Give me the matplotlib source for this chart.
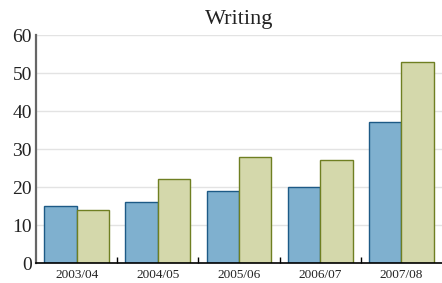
import numpy as np
import matplotlib.pyplot as plt

plt.rcParams['font.family'] = ['Liberation Serif', 'DejaVu Serif']

years = ['2003/04', '2004/05', '2005/06', '2006/07', '2007/08']
series_a = [15, 16, 19, 20, 37]
series_b = [14, 22, 28, 27, 53]

fig = plt.figure(figsize=(4.42, 2.83), dpi=100)
ax = fig.add_axes([36 / 442, 20 / 283, 1 - 36 / 442, 228 / 283])

x = np.arange(len(years))
w = 0.4
ax.bar(x - w / 2, series_a, w, color='#7fb0cf', edgecolor='#1d5a86', linewidth=1, zorder=3)
ax.bar(x + w / 2, series_b, w, color='#d4d8ab', edgecolor='#6f7f22', linewidth=1, zorder=3)

ax.set_xlim(-0.5, len(years) - 0.5)
ax.set_ylim(0, 60)
ax.set_yticks(range(0, 61, 10))
ax.yaxis.grid(True, color='#e3e3e3', linewidth=1, zorder=0)
ax.tick_params(axis='y', length=0, labelsize=14, pad=3, colors='#222222')

ax.set_xticks(x)
ax.set_xticklabels(years)
ax.set_xticks(np.arange(0.5, len(years) - 0.5), minor=True)
ax.tick_params(axis='x', which='major', length=0, labelsize=9.5, pad=4, colors='#222222')
ax.tick_params(axis='x', which='minor', length=4, width=1, direction='in', color='black')

for side in ['top', 'right']:
    ax.spines[side].set_visible(False)
ax.spines['left'].set_color('#666666')
ax.spines['left'].set_linewidth(1.6)
ax.spines['bottom'].set_color('black')
ax.spines['bottom'].set_linewidth(1.2)
ax.spines['bottom'].set_zorder(4)

ax.set_title('Writing', fontsize=16, pad=8, color='#222222')

plt.savefig('out.png', dpi=100)
